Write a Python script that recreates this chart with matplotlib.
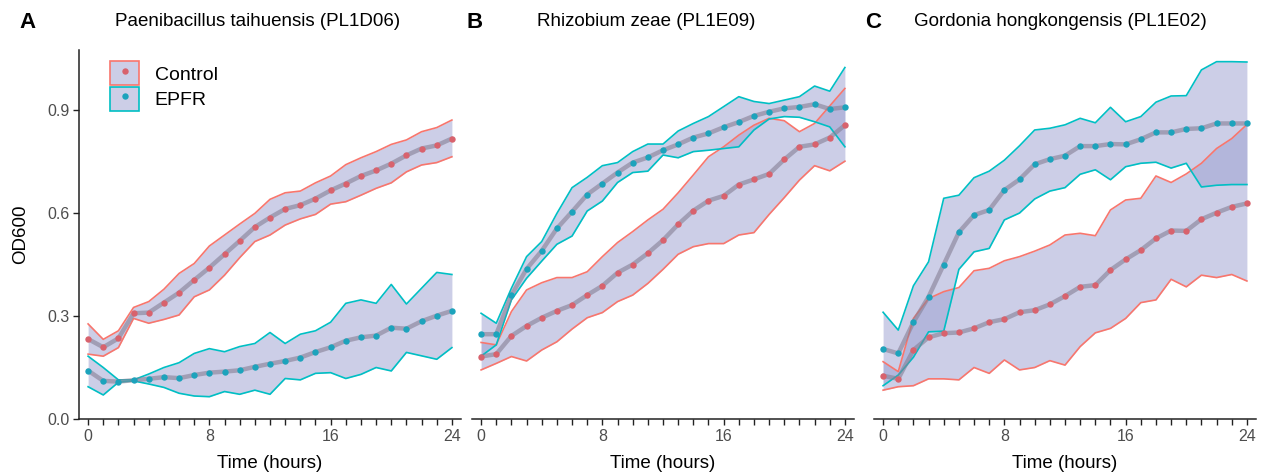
import matplotlib
matplotlib.use('Agg')
import matplotlib.pyplot as plt
import numpy as np
from matplotlib.patches import Patch
from matplotlib.lines import Line2D

plt.rcParams['font.family'] = ['Liberation Sans', 'DejaVu Sans']

hours = list(range(25))

titles = ['Paenibacillus taihuensis (PL1D06)', 'Rhizobium zeae (PL1E09)', 'Gordonia hongkongensis (PL1E02)']
letters = ['A', 'B', 'C']

# panel A
a_ctrl_mean = [0.233, 0.209, 0.235, 0.308, 0.310, 0.339, 0.368, 0.405, 0.441, 0.480, 0.519, 0.559, 0.587,
               0.612, 0.623, 0.642, 0.666, 0.686, 0.708, 0.724, 0.744, 0.768, 0.788, 0.797, 0.817]
a_ctrl_hi = [0.277, 0.232, 0.257, 0.325, 0.342, 0.378, 0.424, 0.453, 0.504, 0.536, 0.568, 0.599, 0.640,
             0.659, 0.664, 0.688, 0.708, 0.741, 0.761, 0.779, 0.800, 0.813, 0.837, 0.849, 0.871]
a_ctrl_lo = [0.189, 0.183, 0.208, 0.293, 0.279, 0.290, 0.303, 0.356, 0.376, 0.419, 0.470, 0.517, 0.536,
             0.565, 0.583, 0.596, 0.626, 0.633, 0.652, 0.672, 0.688, 0.720, 0.740, 0.747, 0.764]
a_epfr_mean = [0.141, 0.111, 0.109, 0.113, 0.117, 0.122, 0.119, 0.128, 0.135, 0.138, 0.142, 0.152, 0.161,
               0.169, 0.179, 0.195, 0.209, 0.228, 0.238, 0.243, 0.266, 0.263, 0.285, 0.301, 0.315]
a_epfr_hi = [0.183, 0.150, 0.114, 0.114, 0.131, 0.150, 0.164, 0.191, 0.205, 0.196, 0.211, 0.220, 0.252,
             0.220, 0.247, 0.257, 0.282, 0.337, 0.347, 0.337, 0.392, 0.335, 0.381, 0.427, 0.421]
a_epfr_lo = [0.094, 0.070, 0.107, 0.111, 0.102, 0.092, 0.075, 0.067, 0.065, 0.080, 0.072, 0.084, 0.072,
             0.118, 0.114, 0.133, 0.135, 0.118, 0.130, 0.150, 0.140, 0.194, 0.184, 0.174, 0.208]

# panel B
b_ctrl_mean = [0.182, 0.189, 0.242, 0.271, 0.295, 0.315, 0.332, 0.361, 0.388, 0.426, 0.450, 0.483, 0.521,
               0.567, 0.607, 0.636, 0.650, 0.683, 0.698, 0.714, 0.756, 0.793, 0.800, 0.820, 0.856]
b_ctrl_hi = [0.223, 0.216, 0.313, 0.376, 0.397, 0.412, 0.412, 0.429, 0.473, 0.514, 0.546, 0.580, 0.611,
             0.659, 0.711, 0.764, 0.793, 0.827, 0.856, 0.876, 0.869, 0.837, 0.861, 0.912, 0.963]
b_ctrl_lo = [0.143, 0.162, 0.182, 0.169, 0.201, 0.225, 0.262, 0.295, 0.310, 0.342, 0.361, 0.395, 0.436,
             0.480, 0.502, 0.511, 0.511, 0.536, 0.543, 0.596, 0.645, 0.696, 0.738, 0.723, 0.751]
b_epfr_mean = [0.247, 0.247, 0.361, 0.437, 0.490, 0.555, 0.604, 0.654, 0.686, 0.718, 0.747, 0.762, 0.783,
               0.800, 0.820, 0.832, 0.850, 0.865, 0.883, 0.895, 0.905, 0.909, 0.917, 0.903, 0.908]
b_epfr_hi = [0.308, 0.279, 0.381, 0.473, 0.517, 0.599, 0.674, 0.704, 0.738, 0.747, 0.779, 0.801, 0.801,
             0.839, 0.861, 0.881, 0.910, 0.939, 0.925, 0.919, 0.929, 0.939, 0.970, 0.955, 1.024]
b_epfr_lo = [0.183, 0.216, 0.347, 0.410, 0.460, 0.509, 0.533, 0.606, 0.635, 0.689, 0.718, 0.722, 0.769,
             0.761, 0.779, 0.783, 0.788, 0.793, 0.842, 0.874, 0.881, 0.879, 0.866, 0.851, 0.793]

# panel C
c_ctrl_mean = [0.126, 0.117, 0.201, 0.238, 0.250, 0.252, 0.264, 0.282, 0.291, 0.311, 0.317, 0.334, 0.358,
               0.385, 0.390, 0.434, 0.465, 0.492, 0.526, 0.549, 0.548, 0.582, 0.601, 0.618, 0.628]
c_ctrl_hi = [0.167, 0.138, 0.293, 0.351, 0.371, 0.383, 0.432, 0.439, 0.461, 0.473, 0.489, 0.507, 0.536,
             0.541, 0.534, 0.609, 0.638, 0.643, 0.708, 0.689, 0.714, 0.745, 0.788, 0.817, 0.858]
c_ctrl_lo = [0.084, 0.094, 0.097, 0.117, 0.117, 0.114, 0.150, 0.133, 0.172, 0.143, 0.150, 0.170, 0.157,
             0.211, 0.251, 0.264, 0.293, 0.339, 0.347, 0.407, 0.385, 0.419, 0.412, 0.421, 0.402]
c_epfr_mean = [0.204, 0.191, 0.282, 0.356, 0.450, 0.544, 0.594, 0.609, 0.667, 0.698, 0.742, 0.757, 0.767,
               0.795, 0.795, 0.801, 0.800, 0.815, 0.835, 0.835, 0.845, 0.847, 0.861, 0.861, 0.861]
c_epfr_hi = [0.311, 0.259, 0.388, 0.458, 0.643, 0.652, 0.703, 0.722, 0.754, 0.796, 0.842, 0.847, 0.857,
             0.876, 0.863, 0.908, 0.866, 0.881, 0.923, 0.941, 0.942, 1.017, 1.041, 1.041, 1.040]
c_epfr_lo = [0.097, 0.128, 0.180, 0.254, 0.256, 0.436, 0.487, 0.497, 0.580, 0.600, 0.641, 0.664, 0.674,
             0.713, 0.726, 0.697, 0.735, 0.745, 0.748, 0.731, 0.745, 0.676, 0.681, 0.683, 0.683]

panels = [
    ((a_ctrl_mean, a_ctrl_lo, a_ctrl_hi), (a_epfr_mean, a_epfr_lo, a_epfr_hi)),
    ((b_ctrl_mean, b_ctrl_lo, b_ctrl_hi), (b_epfr_mean, b_epfr_lo, b_epfr_hi)),
    ((c_ctrl_mean, c_ctrl_lo, c_ctrl_hi), (c_epfr_mean, c_epfr_lo, c_epfr_hi)),
]

fill_col = (155 / 255, 159 / 255, 209 / 255, 0.5)
edge_cols = ['#f8766d', '#00bfc4']
pt_cols = ['#d8626d', '#1ca3bc']

W, H = 1263, 476
fig = plt.figure(figsize=(W / 100, H / 100), dpi=100)

lefts = [79, 472, 874]
ax_w = 382
title_x = [258, 646, 1060]
letter_x = [28, 475, 873]

for i, (ctrl, epfr) in enumerate(panels):
    ax = fig.add_axes([lefts[i] / W, 1 - 419 / H, ax_w / W, (419 - 50) / H])
    for j, (m, lo, hi) in enumerate([ctrl, epfr]):
        ax.fill_between(hours, lo, hi, color=fill_col, lw=0)
        ax.plot(hours, hi, color=edge_cols[j], lw=1.2)
        ax.plot(hours, lo, color=edge_cols[j], lw=1.2)
    for j, (m, lo, hi) in enumerate([ctrl, epfr]):
        ax.plot(hours, m, color='#857f95', alpha=0.6, lw=3.2, solid_capstyle='round')
        ax.plot(hours, m, 'o', color=pt_cols[j], ms=4.6, mew=0)

    ax.set_xlim(-0.6, 24.6)
    ax.set_ylim(0, 1.075)
    for s in ['top', 'right']:
        ax.spines[s].set_visible(False)
    ax.spines['bottom'].set_linewidth(1.1)
    ax.spines['bottom'].set_color('#222222')
    ax.set_xticks(hours)
    ax.set_xticklabels([str(h) if h % 8 == 0 else '' for h in hours])
    ax.tick_params(axis='x', length=4.5, width=1.0, color='#222222', labelsize=11.5, labelcolor='#4d4d4d', pad=2.5)
    if i == 0:
        ax.spines['left'].set_linewidth(1.1)
        ax.spines['left'].set_color('#222222')
        ax.set_yticks([0.0, 0.3, 0.6, 0.9])
        ax.set_yticklabels(['0.0', '0.3', '0.6', '0.9'])
        ax.tick_params(axis='y', length=4.5, width=1.0, color='#222222', labelsize=11.5, labelcolor='#4d4d4d', pad=2.5)
        ax.set_ylabel('OD600', fontsize=13.5, labelpad=13)
        handles = [
            (Patch(facecolor=fill_col, edgecolor=edge_cols[0], lw=1.2),
             Line2D([], [], marker='o', ls='', color=pt_cols[0], ms=4.6, mew=0)),
            (Patch(facecolor=fill_col, edgecolor=edge_cols[1], lw=1.2),
             Line2D([], [], marker='o', ls='', color=pt_cols[1], ms=4.6, mew=0)),
        ]
        ax.legend(handles, ['Control', 'EPFR'], loc='upper left', bbox_to_anchor=(0.061, 0.99),
                  frameon=False, fontsize=14, handlelength=1.5, handleheight=1.5,
                  labelspacing=0.1, handletextpad=0.8, borderaxespad=0, numpoints=1)
    else:
        ax.spines['left'].set_visible(False)
        ax.set_yticks([])
    ax.set_xlabel('Time (hours)', fontsize=13.5, labelpad=8)

    fig.text(title_x[i] / W, 1 - 22 / H, titles[i], ha='center', va='center', fontsize=13.5)
    fig.text(letter_x[i] / W, 1 - 22 / H, letters[i], ha='center', va='center', fontsize=16, fontweight='bold')

plt.savefig('out.png', dpi=100)
